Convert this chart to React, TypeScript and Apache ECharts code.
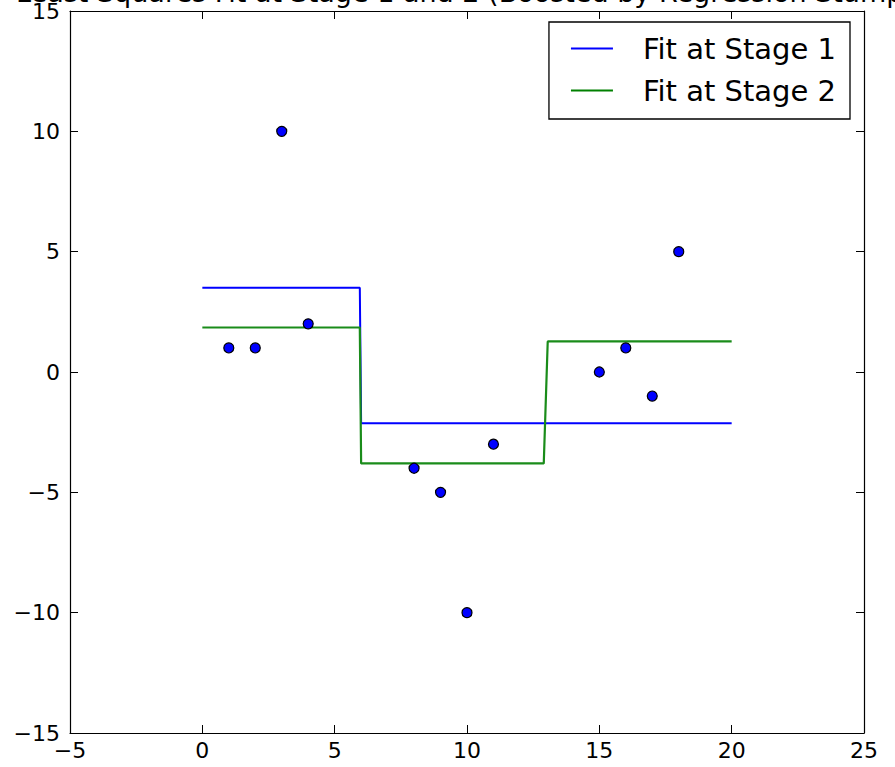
import React, { useEffect, useRef } from "react";
import * as echarts from "echarts";

const titleText = "Least Squares Fit at Stage 1 and 2 (Boosted by Regression Stumps)";
const pointX = [1, 2, 3, 4, 8, 9, 10, 11, 15, 16, 17, 18];
const pointY = [1, 1, 10, 2, -4, -5, -10, -3, 0, 1, -1, 5];
const stage1X = [0, 5.95, 6.0, 20];
const stage1Y = [3.5, 3.5, -2.125, -2.125];
const stage2X = [0, 5.95, 6.0, 12.9, 13.05, 20];
const stage2Y = [1.85, 1.85, -3.8, -3.8, 1.27, 1.27];
const seriesNames = ["Fit at Stage 1", "Fit at Stage 2"];
const xRange = [-5, 25];
const yRange = [-15, 15];
const tickStep = 5;

const FONT = "DejaVu Sans";
const fmt = (v: number) => String(v).replace("-", "\u2212");

export default function App() {
  const ref = useRef<HTMLDivElement>(null);
  useEffect(() => {
    if (!ref.current) return;
    const chart = echarts.init(ref.current, undefined, { renderer: "svg" });
    const axisCommon = {
      type: "value" as const,
      interval: tickStep,
      splitLine: { show: false },
      axisLine: { show: true, onZero: false, lineStyle: { color: "#000", width: 1.2 } },
      axisTick: { show: true, inside: true, length: 8, lineStyle: { color: "#000", width: 1 } },
    };
    chart.setOption({
      animation: false,
      backgroundColor: "#fff",
      title: {
        text: titleText,
        left: 467,
        textAlign: "center",
        top: -26,
        textStyle: { fontFamily: FONT, fontSize: 27, fontWeight: "normal", color: "#000" },
      },
      grid: { left: 70, right: 31, top: 10, bottom: 34, containLabel: false },
      legend: {
        orient: "vertical",
        right: 45,
        top: 22,
        data: seriesNames.map((n) => ({ name: n, icon: "rect" })),
        itemWidth: 42,
        itemHeight: 2,
        itemGap: 13,
        padding: [12, 14, 14, 22],
        borderColor: "#000",
        borderWidth: 1.3,
        backgroundColor: "#fff",
        textStyle: { fontFamily: FONT, fontSize: 29, color: "#000", padding: [0, 0, 0, 25] },
      },
      xAxis: [
        {
          ...axisCommon,
          min: xRange[0],
          max: xRange[1],
          position: "bottom",
          axisLabel: {
            show: true,
            showMinLabel: true,
            showMaxLabel: true,
            margin: 6,
            fontFamily: FONT,
            fontSize: 22,
            color: "#000",
            formatter: fmt,
          },
        },
        {
          ...axisCommon,
          min: xRange[0],
          max: xRange[1],
          position: "top",
          axisLabel: { show: false },
        },
      ],
      yAxis: [
        {
          ...axisCommon,
          min: yRange[0],
          max: yRange[1],
          position: "left",
          axisLabel: {
            show: true,
            showMinLabel: true,
            showMaxLabel: true,
            margin: 10,
            fontFamily: FONT,
            fontSize: 22,
            color: "#000",
            formatter: fmt,
          },
        },
        {
          ...axisCommon,
          min: yRange[0],
          max: yRange[1],
          position: "right",
          axisLabel: { show: false },
        },
      ],
      series: [
        {
          name: seriesNames[0],
          type: "line",
          data: stage1X.map((x, i) => [x, stage1Y[i]]),
          symbol: "none",
          color: "#0000ff",
          lineStyle: { color: "#0000ff", width: 2 },
          z: 2,
        },
        {
          name: seriesNames[1],
          type: "line",
          data: stage2X.map((x, i) => [x, stage2Y[i]]),
          symbol: "none",
          color: "#008000",
          lineStyle: { color: "#1a8c1a", width: 2.2 },
          z: 3,
        },
        {
          name: "data",
          type: "scatter",
          data: pointX.map((x, i) => [x, pointY[i]]),
          symbol: "circle",
          symbolSize: 10,
          itemStyle: { color: "#0000ff", borderColor: "#000", borderWidth: 1.2, opacity: 1 },
          z: 5,
        },
      ],
    });
    return () => chart.dispose();
  }, []);
  return (
    <div
      ref={ref}
      style={{ position: "fixed", left: 0, top: 0, width: 895, height: 767 }}
    />
  );
}
